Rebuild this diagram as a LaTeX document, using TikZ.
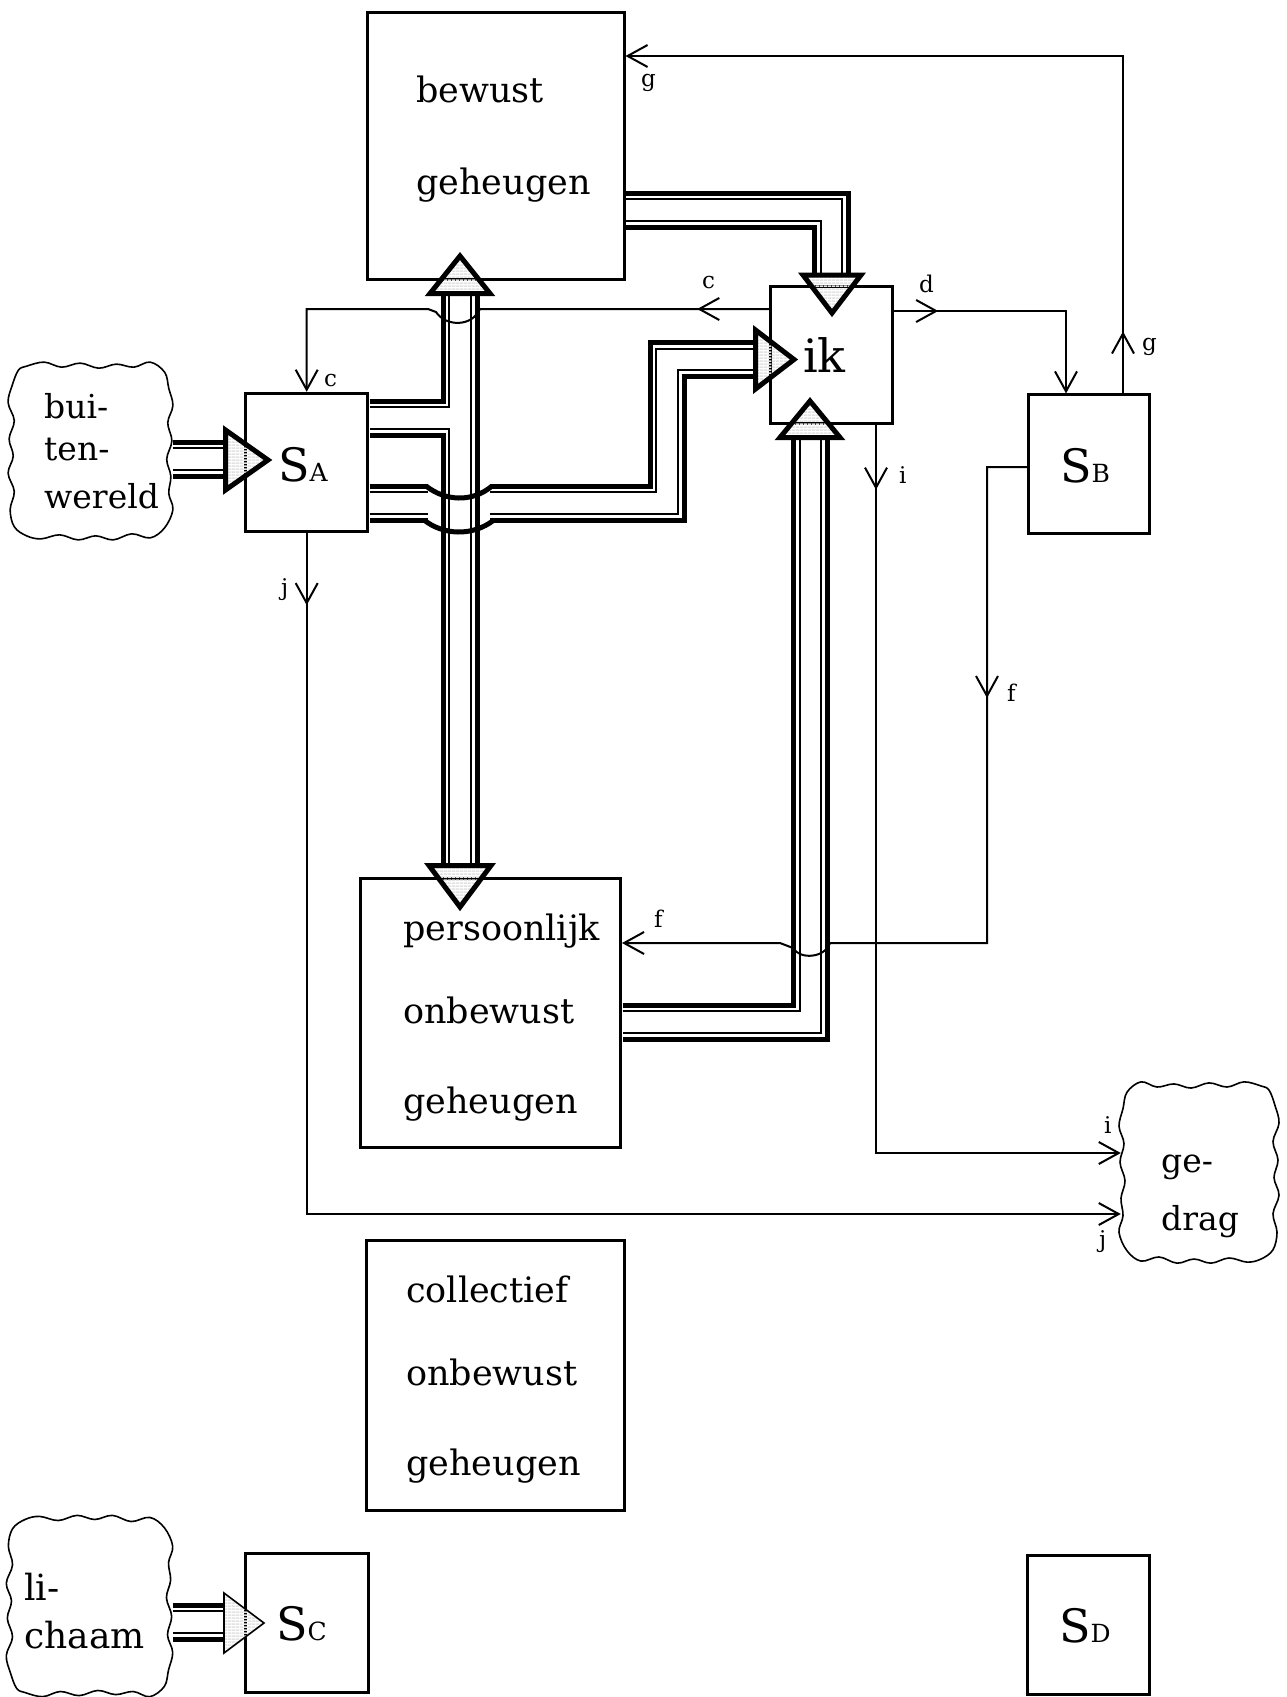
\documentclass[tikz,border=0pt]{standalone}
\usepackage{fontspec}
\setmainfont{DejaVu Serif}
\usetikzlibrary{arrows.meta,decorations.markings,patterns}
\pgfdeclarepatternformonly{hstripes}{\pgfqpoint{0pt}{0pt}}{\pgfqpoint{4pt}{3pt}}{\pgfqpoint{4pt}{3pt}}{\pgfpathrectangle{\pgfqpoint{-0.1pt}{0pt}}{\pgfqpoint{4.2pt}{2pt}}\pgfusepath{fill}}
\newcommand\cloudoutline{plot[smooth cycle,tension=0.6] coordinates {
 (-62,-84) (-45,-88) (-28,-83) (-10,-87) (8,-82) (25,-86) (42,-83) (58,-88)
 (72,-78)
 (76,-62) (80,-45) (75,-28) (79,-10) (74,8) (78,25) (76,42) (80,58)
 (72,76)
 (58,86) (40,82) (22,88) (5,84) (-12,88) (-30,83) (-48,87) (-62,84)
 (-74,75)
 (-78,58) (-74,40) (-80,22) (-75,5) (-79,-12) (-74,-30) (-80,-48) (-76,-65)
 (-70,-80)}}
\begin{document}
\begin{tikzpicture}[x=1pt,y=-1pt,
  box/.style={draw,line width=3pt,inner sep=0pt},
  cloudnode/.style={inner sep=0pt},
  cloudline/.style={line width=1.6pt,line join=round},
  bt/.style={anchor=base west,inner sep=0pt,font=\fontsize{35}{35}\selectfont},
  ct/.style={anchor=base west,inner sep=0pt,font=\fontsize{33}{33}\selectfont},
  lt/.style={anchor=base west,inner sep=0pt,font=\fontsize{36}{36}\selectfont},
  st/.style={anchor=base west,inner sep=0pt,font=\fontsize{46}{46}\selectfont},
  lbl/.style={anchor=base west,inner sep=0pt,font=\fontsize{23}{23}\selectfont},
  thinline/.style={line width=2pt},
  barb/.style={-{Straight Barb[length=20pt,width=22pt]}},
  midbarb/.style={postaction={decorate,decoration={markings,mark=at position #1 with {\arrow{Straight Barb[length=20pt,width=22pt]}}}}},
  tri/.style={line width=5pt,pattern=hstripes,pattern color=gray!22},
  trithin/.style={line width=1.6pt,pattern=hstripes,pattern color=gray!22}
]
\fill[white] (0,0) rectangle (1286,1697);
\useasboundingbox (0,0) rectangle (1286,1697);
% boxes
\node[box,minimum width=257pt,minimum height=267pt] (bew) at (495.5,145.5) {};
\node[box,minimum width=122pt,minimum height=137pt] (ik) at (831.7,354.7) {};
\node[box,minimum width=122.5pt,minimum height=138.4pt] (sa) at (306.7,462.5) {};
\node[box,minimum width=121.5pt,minimum height=138.5pt] (sb) at (1089.2,464.2) {};
\node[box,minimum width=260pt,minimum height=269pt] (per) at (490.5,1012.5) {};
\node[box,minimum width=258.6pt,minimum height=269.5pt] (col) at (495.3,1375.3) {};
\node[box,minimum width=123pt,minimum height=138.5pt] (sc) at (306.5,1622.8) {};
\node[box,minimum width=122.3pt,minimum height=138.6pt] (sd) at (1088.5,1625) {};
% clouds
\node[cloudnode,minimum width=164pt,minimum height=176pt] (bw) at (90.5,451) {};
\node[cloudnode,minimum width=156pt,minimum height=180pt] (gd) at (1199,1172.5) {};
\node[cloudnode,minimum width=166pt,minimum height=180pt] (lc) at (89.5,1606) {};
\begin{scope}[shift={(bw.center)},xscale=1.03,yscale=1.01]
  \draw[cloudline] \cloudoutline;
\end{scope}
\begin{scope}[shift={(gd.center)},xscale=-1.0,yscale=1.03]
  \draw[cloudline] \cloudoutline;
\end{scope}
\begin{scope}[shift={(lc.center)},xscale=1.04,yscale=-1.03]
  \draw[cloudline] \cloudoutline;
\end{scope}
% texts
\node[bt] (tb1) at (416,102) {bewust};
\node[bt] (tb2) at (416,194) {geheugen};
\node[bt] (tp1) at (403,940) {persoonlijk};
\node[bt] (tp2) at (403,1023) {onbewust};
\node[bt] (tp3) at (403,1113) {geheugen};
\node[bt] (tc1) at (406,1302) {collectief};
\node[bt] (tc2) at (406,1385) {onbewust};
\node[bt] (tc3) at (406,1475) {geheugen};
\node[st] (tik) at (803,372) {ik};
\node[st] (tsa) at (278,481) {S{\fontsize{25}{25}\selectfont A}};
\node[st] (tsb) at (1060,482) {S{\fontsize{25}{25}\selectfont B}};
\node[st] (tsc) at (276,1640) {S{\fontsize{25}{25}\selectfont C}};
\node[st] (tsd) at (1059,1642) {S{\fontsize{25}{25}\selectfont D}};
\node[ct] (tw1) at (44,418) {bui-};
\node[ct] (tw2) at (44,460) {ten-};
\node[ct] (tw3) at (44,508) {wereld};
\node[ct] (tg1) at (1161,1172) {ge-};
\node[ct] (tg2) at (1161,1230) {drag};
\node[lt] (tl1) at (24,1600) {li-};
\node[lt] (tl2) at (24,1648) {chaam};
% labels
\node[lbl] (lg1) at (641,86) {g};
\node[lbl] (lg2) at (1142,350) {g};
\node[lbl] (lc1) at (702,288) {c};
\node[lbl] (lc2) at (324,386) {c};
\node[lbl] (ld) at (919,292) {d};
\node[lbl] (li1) at (899,483) {i};
\node[lbl] (li2) at (1104,1133) {i};
\node[lbl] (lj1) at (281,595) {j};
\node[lbl] (lj2) at (1099,1247) {j};
\node[lbl] (lf1) at (1007,701) {f};
\node[lbl] (lf2) at (654,927) {f};
% pipe coordinates
\coordinate (p1a) at (626,210); \coordinate (p1b) at (831.5,210); \coordinate (p1c) at (831.5,275);
\coordinate (p2a) at (460,293.5); \coordinate (p2b) at (460,865.5);
\coordinate (p3a) at (369.5,418); \coordinate (p3b) at (460,418);
\coordinate (p4a) at (369.5,503); \coordinate (p4b) at (428,503);
\coordinate (p4c) at (490,503); \coordinate (p4d) at (667,503); \coordinate (p4e) at (667,359.5); \coordinate (p4f) at (755.5,359.5);
\coordinate (p5a) at (622.5,1022); \coordinate (p5b) at (810.5,1022); \coordinate (p5c) at (810.5,437.5);
\coordinate (p6a) at (bw.east |- 0,459); \coordinate (p6b) at (225.5,459);
\coordinate (p7a) at (lc.east |- 0,1622); \coordinate (p7b) at (224,1622);
\foreach \w/\c in {39pt/black,29pt/white,23.5pt/black,19.5pt/white}{
  \draw[line width=\w,draw=\c] (p1a) -- (p1b) -- (p1c);
  \draw[line width=\w,draw=\c] (p2a) -- (p2b);
  \draw[line width=\w,draw=\c] (p3a) -- (p3b);
  \draw[line width=\w,draw=\c] (p4a) -- (p4b);
  \draw[line width=\w,draw=\c] (p4c) -- (p4d) -- (p4e) -- (p4f);
  \draw[line width=\w,draw=\c] (p5a) -- (p5b) -- (p5c);
  \draw[line width=\w,draw=\c] (p6a) -- (p6b);
  \draw[line width=\w,draw=\c] (p7a) -- (p7b);
}
% hop of the lower S_A pipe over the vertical pipe
\draw[line width=5pt] (426,486) .. controls (445,501) and (472,503) .. (492,486);
\draw[line width=5pt] (424,520) .. controls (443,535) and (472,537) .. (494,520);
% arrow heads of the pipes
\draw[tri] (430,293.5) -- (460,256) -- (490,293.5) -- cycle;
\draw[tri] (429,865.5) -- (491,865.5) -- (460,907) -- cycle;
\draw[tri] (803,275) -- (861,275) -- (832,313) -- cycle;
\draw[tri] (780,437.5) -- (810,401) -- (840,437.5) -- cycle;
\draw[tri] (755.5,330) -- (794,359.5) -- (755.5,389) -- cycle;
\draw[tri] (225.5,430) -- (268,460) -- (225.5,490) -- cycle;
\draw[trithin] (224,1593) -- (264,1623) -- (224,1653) -- cycle;
% thin connectors
\draw[thinline,barb,midbarb=62pt] (sb.north -| 1123,0) -- (1123,56) -- (bew.east |- 0,56);
\draw[thinline,barb,midbarb=72pt] (ik.west |- 0,309) -- (480,309) .. controls (472,327) and (446,327) .. (436,312) -- (428,309) -| (sa.north);
\draw[thinline,barb,midbarb=44pt] (ik.east |- 0,311) -- (1066,311) -- (1066,0 |- sb.north);
\draw[thinline,barb,midbarb=65pt] (876,0 |- ik.south) -- (876,1153) -- (gd.west |- 0,1153);
\draw[thinline,barb,midbarb=72pt] (sa.south) -- (sa.south |- 0,1214) -- (gd.west |- 0,1214);
\draw[thinline,barb,midbarb=271pt] (sb.west |- 0,467) -- (987,467) -- (987,943) -- (830,943) .. controls (825,958) and (800,960) .. (793,948) -- (780,943) -- (per.east |- 0,943);
\end{tikzpicture}
\end{document}
